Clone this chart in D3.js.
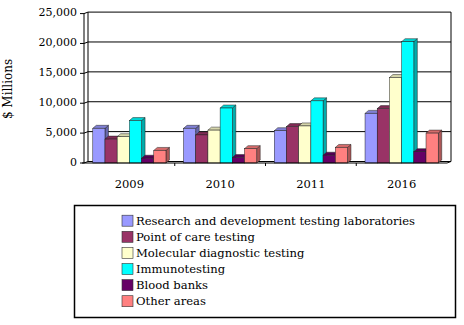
<!DOCTYPE html>
<html>
<head>
<meta charset="utf-8">
<script src="https://cdn.jsdelivr.net/npm/d3@7"></script>
<style>
  body { margin: 0; background: #fff; }
</style>
</head>
<body>
<div id="chart"></div>
<script>
// chart data
const years = ["2009", "2010", "2011", "2016"];
const seriesNames = [
  "Research and development testing laboratories",
  "Point of care testing",
  "Molecular diagnostic testing",
  "Immunotesting",
  "Blood banks",
  "Other areas"
];
const rdLabs = [5800, 5800, 5400, 8300];
const pointOfCare = [4000, 4700, 6100, 9100];
const molecular = [4400, 5500, 6200, 14300];
const immuno = [7100, 9200, 10400, 20300];
const bloodBanks = [800, 900, 1300, 1900];
const otherAreas = [2100, 2400, 2600, 5000];
const yTicks = [0, 5000, 10000, 15000, 20000, 25000];
const colors = ["#9999ff", "#993366", "#ffffcc", "#00ffff", "#660066", "#ff8080"];

const allSeries = [rdLabs, pointOfCare, molecular, immuno, bloodBanks, otherAreas];
const serif = "'DejaVu Serif', serif";

const width = 464, height = 325;
const depthX = 4, depthY = -1.5;   // wall depth
const barDX = 3.5, barDY = -3;     // bar cap depth

const svg = d3.select("#chart")
  .append("svg")
  .attr("width", width)
  .attr("height", height);

svg.append("rect").attr("width", width).attr("height", height).attr("fill", "#fff");

// scales (front plane)
const x = d3.scaleBand().domain(years).range([84, 447]);
const x1 = d3.scaleBand()
  .domain(seriesNames)
  .range([0, x.bandwidth()])
  .paddingOuter(0.72);
const y = d3.scaleLinear().domain([0, 25000]).range([163, 13.6]);

// gridlines on back wall + side wall
yTicks.forEach((t) => {
  if (t === 0) return;
  svg.append("line")
    .attr("x1", x.range()[0] + depthX).attr("x2", x.range()[1] + depthX)
    .attr("y1", y(t) + depthY).attr("y2", y(t) + depthY)
    .attr("stroke", "#000").attr("stroke-width", 1);
  svg.append("line")
    .attr("x1", x.range()[0]).attr("x2", x.range()[0] + depthX)
    .attr("y1", y(t)).attr("y2", y(t) + depthY)
    .attr("stroke", "#000").attr("stroke-width", 1);
});

// walls outline
svg.append("line")
  .attr("x1", x.range()[0] + depthX).attr("x2", x.range()[0] + depthX)
  .attr("y1", y(25000) + depthY).attr("y2", y(0) + depthY)
  .attr("stroke", "#000");
svg.append("line")
  .attr("x1", x.range()[1] + depthX).attr("x2", x.range()[1] + depthX)
  .attr("y1", y(25000) + depthY).attr("y2", y(0) + depthY)
  .attr("stroke", "#000");

// floor
svg.append("path")
  .attr("d", d3.line()([
    [x.range()[0], y(0)],
    [x.range()[0] + depthX, y(0) + depthY],
    [x.range()[1] + depthX, y(0) + depthY],
    [x.range()[1], y(0)]
  ]))
  .attr("fill", "none")
  .attr("stroke", "#000");

// 3D bars, drawn left to right
years.forEach((yr, ci) => {
  seriesNames.forEach((s, si) => {
    const v = allSeries[si][ci];
    const bx = x(yr) + x1(s);
    const bw = x1.bandwidth();
    const top = y(v), base = y(0);
    const c = d3.color(colors[si]);
    const g = svg.append("g");
    // side face
    g.append("path")
      .attr("d", d3.line()([
        [bx + bw, top], [bx + bw + barDX, top + barDY],
        [bx + bw + barDX, base + barDY], [bx + bw, base]
      ]) + "Z")
      .attr("fill", c.darker(1.1))
      .attr("stroke", "#222").attr("stroke-width", 0.5);
    // top face
    g.append("path")
      .attr("d", d3.line()([
        [bx, top], [bx + barDX, top + barDY],
        [bx + bw + barDX, top + barDY], [bx + bw, top]
      ]) + "Z")
      .attr("fill", c.darker(0.5))
      .attr("stroke", "#222").attr("stroke-width", 0.5);
    // front face
    g.append("rect")
      .attr("x", bx).attr("y", top)
      .attr("width", bw).attr("height", base - top)
      .attr("fill", colors[si])
      .attr("stroke", "#222").attr("stroke-width", 0.5);
  });
});

// front axis line + floor front edge
svg.append("line")
  .attr("x1", x.range()[0]).attr("x2", x.range()[0])
  .attr("y1", y(25000)).attr("y2", y(0))
  .attr("stroke", "#000");
svg.append("line")
  .attr("x1", x.range()[0] - 2).attr("x2", x.range()[1])
  .attr("y1", y(0)).attr("y2", y(0))
  .attr("stroke", "#000").attr("stroke-width", 1.2);

// y axis ticks and labels
yTicks.forEach((t) => {
  svg.append("line")
    .attr("x1", x.range()[0] - 4).attr("x2", x.range()[0])
    .attr("y1", y(t)).attr("y2", y(t))
    .attr("stroke", "#000");
  svg.append("text")
    .attr("x", 77).attr("y", y(t) - 1)
    .attr("dy", "0.35em")
    .attr("text-anchor", "end")
    .attr("font-family", serif)
    .style("font-size", "11px")
    .text(d3.format(",")(t));
});

// x axis ticks between categories
years.forEach((yr, i) => {
  if (i > 0) {
    svg.append("line")
      .attr("x1", x(yr)).attr("x2", x(yr))
      .attr("y1", y(0)).attr("y2", y(0) + 3)
      .attr("stroke", "#000");
  }
  svg.append("text")
    .attr("x", x(yr) + x.bandwidth() / 2)
    .attr("y", 188)
    .attr("text-anchor", "middle")
    .attr("font-family", serif)
    .style("font-size", "11.5px")
    .text(yr);
});

// y axis title
svg.append("text")
  .attr("transform", "translate(12, 89) rotate(-90)")
  .attr("text-anchor", "middle")
  .attr("font-family", serif)
  .style("font-size", "12px")
  .text("$ Millions");

// legend
svg.append("rect")
  .attr("x", 74.5).attr("y", 205.5)
  .attr("width", 381).attr("height", 112)
  .attr("fill", "#fff")
  .attr("stroke", "#000").attr("stroke-width", 1.5);

const legend = svg.selectAll(".legend")
  .data(seriesNames)
  .enter()
  .append("g")
  .attr("class", "legend")
  .attr("transform", (d, i) => `translate(122, ${220.7 + i * 16.1})`);

legend.append("rect")
  .attr("x", 0).attr("y", -5.5)
  .attr("width", 11).attr("height", 11)
  .attr("fill", (d, i) => colors[i])
  .attr("stroke", "#333").attr("stroke-width", 0.6);

legend.append("text")
  .attr("x", 14).attr("y", 0)
  .attr("dy", "0.35em")
  .attr("font-family", serif)
  .style("font-size", "11.6px")
  .text((d) => d);
</script>
</body>
</html>
